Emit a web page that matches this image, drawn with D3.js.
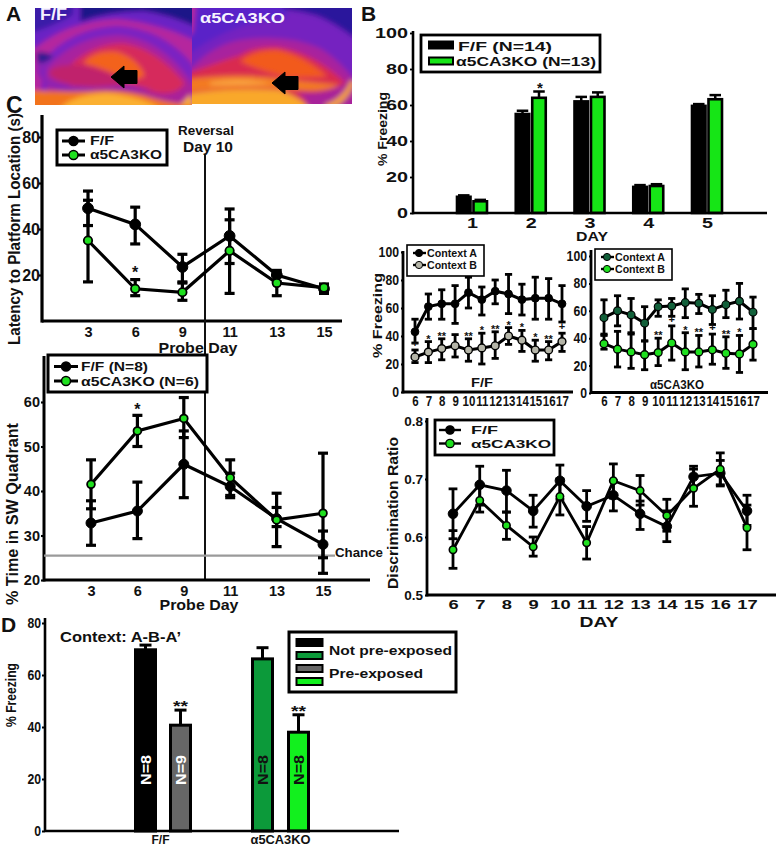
<!DOCTYPE html>
<html><head><meta charset="utf-8">
<script src="https://cdn.jsdelivr.net/npm/d3@7"></script>
<style>
html,body{margin:0;padding:0;background:#fff}
svg{display:block}
text{font-family:"Liberation Sans",Arial,sans-serif;font-weight:700;fill:#111}
</style></head><body><svg id="c" width="776" height="853"></svg>
<script>
// ---------- DATA ----------
const probeDays = ["3","6","9","11","13","15"];
const latencyFF = [49,42,23.5,37,20,14];
const latencyFFLo = [41.5,33.5,17,25,17,12];
const latencyFFHi = [56.5,49.5,29,48.7,22,16];
const latencyKO = [35,14,12.5,30.5,16.5,14.5];
const latencyKOLo = [17,11,9,12,11,13];
const latencyKOHi = [52.5,18,16.5,44,20,16];

const quadFF = [32.8,35.5,46,41,33.8,28];
const quadFFLo = [27.8,29.3,38.5,38.5,32,25];
const quadFFHi = [37.8,42,53.5,44,36.3,31];
const quadKO = [41.5,53.5,56.3,43,33.5,35];
const quadKOLo = [36,50,52,39,27.5,21.5];
const quadKOHi = [47,57,61,47,39.5,48.5];
const chanceLevel = 25.5;

const trainDays = ["1","2","3","4","5"];
const trainFF = [9,55,62,14.5,59.5];
const trainFFHi = [9.8,56.8,64.5,15.5,60.5];
const trainKO = [6.5,64,64.5,15,63.2];
const trainKOHi = [7.3,67.5,67,16,65.5];

const ctxDays = ["6","7","8","9","10","11","12","13","14","15","16","17"];
const ffA = [43,61,63,63,71,66,72,70,66,67,67,63];
const ffALo = [35,52,52,49,60,55,63,56,55,52,52,50];
const ffAHi = [52,70,73,76,82,75,80,84,77,82,81,76];
const ffB = [25,28.5,31,33,30,31.5,33,40,37,30,30,36];
const ffBLo = [21,21,23,25,22,20,24,34,29,22,23,29];
const ffBHi = [30,36,38,41,38,42,43,46,44,37,36,42];
const ffStars = ["+","*","**","","**","*","**","*","*","*","**","+"];

const koA = [55,60,57,51,63,63.5,66,65.5,61,64.5,67,59];
const koALo = [42,49,44,38,56,56,55,58,50,55,54,47];
const koAHi = [68,71,69,63,68,69,76,72,71,75,80,70];
const koB = [36,32,30,28,29.5,36.5,30,30,31.5,29,28.5,35.5];
const koBLo = [32,19,18,17,20,24,17,19,21,18,15,24];
const koBHi = [43,45,43,38,40,49,44,42,43,41,42,47];
const koStars = ["","","","","**","+","*","**","+","**","*",""];

const discFF = [.64,.69,.68,.645,.697,.653,.672,.64,.618,.704,.71,.645];
const discFFLo = [.597,.655,.643,.617,.665,.627,.645,.613,.592,.685,.688,.62];
const discFFHi = [.683,.722,.715,.672,.724,.68,.697,.662,.645,.722,.732,.672];
const discKO = [.578,.663,.62,.583,.67,.59,.697,.68,.637,.684,.717,.616];
const discKOLo = [.546,.643,.596,.567,.638,.562,.667,.655,.61,.653,.69,.578];
const discKOHi = [.611,.69,.643,.6,.7,.618,.726,.706,.665,.717,.745,.655];

const preGroups = ["F/F","α5CA3KO"];
const preValues = [69.7,40.7,66.2,38];
const preHi = [71.5,46.5,70.5,44.7];
const preN = ["N=8","N=9","N=8","N=8"];
const preStars = ["","**","","**"];
const preColors = ["#000000","#666666","#0c9a3a","#12f01e"];

const BLACK="#000", GREEN="#1fe01f", GREY="#b5b5a8", DKGREEN="#12603a";

// ---------- HELPERS ----------
const svg = d3.select("#c");
const defs = svg.append("defs");
defs.append("filter").attr("id","bl").attr("x","-20%").attr("y","-20%").attr("width","140%").attr("height","140%")
  .append("feGaussianBlur").attr("stdDeviation",2.8);
defs.append("clipPath").attr("id","cl").append("rect").attr("x",35).attr("y",8).attr("width",157).attr("height",97);
defs.append("clipPath").attr("id","cr").append("rect").attr("x",192).attr("y",8).attr("width",160).attr("height",96);

function txt(g,s,x,y,size,o={}){
  const t=g.append("text").attr("x",x).attr("y",y).attr("font-size",size).text(s);
  if(o.anchor)t.attr("text-anchor",o.anchor);
  if(o.w)t.attr("textLength",o.w).attr("lengthAdjust","spacingAndGlyphs");
  if(o.fill)t.style("fill",o.fill);
  if(o.rot)t.attr("transform",`rotate(-90 ${x} ${y})`);
  return t;
}
function axes(g,x,y,o){
  const ay=g.append("g").attr("transform",`translate(${o.x0},0)`)
    .call(d3.axisLeft(y).tickValues(o.yTicks).tickFormat(o.yFmt||d3.format("d")).tickSize(o.tick||5).tickPadding(o.yPad||2));
  const ax=g.append("g").attr("transform",`translate(0,${o.y0})`)
    .call(d3.axisBottom(x).tickSize(0).tickPadding(o.xPad));
  [ay,ax].forEach(a=>{a.select(".domain").remove();a.selectAll("line").attr("stroke","#000").attr("stroke-width",o.lw*.7);});
  ay.selectAll("text").attr("font-size",o.yFs).style("font-family",'"Liberation Sans",Arial').style("font-weight",700).style("fill","#111");
  ax.selectAll("text").attr("font-size",o.xFs).style("font-family",'"Liberation Sans",Arial').style("font-weight",700).style("fill","#111");
  if(o.tickW)ax.selectAll("text").each(function(){const s=this.textContent;
    d3.select(this).attr("textLength",s.length*o.tickW).attr("lengthAdjust","spacingAndGlyphs");});
  if(o.xScale)ax.selectAll("text").attr("transform",`scale(${o.xScale},1)`);
  if(o.yTickW)ay.selectAll("text").each(function(){const s=this.textContent;
    d3.select(this).attr("textLength",s.length*o.yTickW).attr("lengthAdjust","spacingAndGlyphs");});
  g.append("line").attr("x1",o.x0).attr("x2",o.x0).attr("y1",o.yTop).attr("y2",o.y0+o.lw/2).attr("stroke","#000").attr("stroke-width",o.lw);
  g.append("line").attr("x1",o.x0).attr("x2",o.x1).attr("y1",o.y0).attr("y2",o.y0).attr("stroke","#000").attr("stroke-width",o.lw);
}
function series(g,cats,x,y,v,lo,hi,o){
  const gg=g.append("g");
  const eb=gg.append("g").selectAll("g").data(cats).join("g");
  eb.append("line").attr("x1",d=>x(d)).attr("x2",d=>x(d)).attr("y1",(d,i)=>y(lo[i])).attr("y2",(d,i)=>y(hi[i]))
    .attr("stroke","#000").attr("stroke-width",o.ew);
  [lo,hi].forEach(a=>eb.append("line").attr("x1",d=>x(d)-o.cap).attr("x2",d=>x(d)+o.cap)
    .attr("y1",(d,i)=>y(a[i])).attr("y2",(d,i)=>y(a[i])).attr("stroke","#000").attr("stroke-width",o.ew));
  gg.append("path").attr("fill","none").attr("stroke","#000").attr("stroke-width",o.lw)
    .attr("d",d3.line().x((d,i)=>x(cats[i])).y(d=>y(d))(v));
  gg.append("g").selectAll("circle").data(v).join("circle").attr("cx",(d,i)=>x(cats[i])).attr("cy",d=>y(d))
    .attr("r",o.r).attr("fill",o.fill).attr("stroke","#000").attr("stroke-width",o.sw);
}
function lineLegend(g,box,items,o){
  g.append("rect").attr("x",box[0]).attr("y",box[1]).attr("width",box[2]).attr("height",box[3])
    .attr("fill","#fff").attr("stroke","#000").attr("stroke-width",o.bw);
  items.forEach(it=>{
    g.append("line").attr("x1",o.lx).attr("x2",o.lx+o.ll).attr("y1",it.y).attr("y2",it.y).attr("stroke","#000").attr("stroke-width",o.lw);
    g.append("circle").attr("cx",o.lx+o.ll/2).attr("cy",it.y).attr("r",o.r).attr("fill",it.fill).attr("stroke","#000").attr("stroke-width",o.sw);
    txt(g,it.t,o.tx,it.y+o.fs*.36,o.fs,{w:it.w});
  });
}
const pt=(cats,a,b)=>d3.scalePoint().domain(cats).range([a,b]);

// ---------- PANEL A (hippocampus image, painted as blurred shapes) ----------
const A=svg.append("g");
function slice(clip,ox,oy,shapes){
  const g=A.append("g").attr("clip-path",`url(#${clip})`);
  const inner=g.append("g").attr("filter","url(#bl)").append("g").attr("transform",`translate(${ox},${oy}) scale(${1/3})`);
  shapes.forEach(s=>inner.append("path").attr("d",s[0]).attr("fill",s[1]));
}
slice("cl",30,5,[
 ["M-20-20H520V340H-20Z","#b5269e"],
 ["M-20-20H520V120Q400 55 260 42Q110 50 15 130L-20 120Z","#6a24c4"],
 ["M-20-20H130V30Q60 70 -20 90Z","#3a1ca8"],
 ["M150-20H520V75Q420 28 340 18Q240 18 150 50Z","#1e1488"],
 ["M35 170Q120 70 260 62Q400 70 490 180V320H35Z","#7a22c2"],
 ["M50 190Q130 95 265 90Q390 100 480 225V320H50Z","#a8229f"],
 ["M120 180Q190 115 280 115Q380 130 465 235V280H120Z","#d62c5c"],
 ["M160 175Q190 135 260 140Q325 160 345 212L300 232Q230 190 160 175Z","#f3621f"],
 ["M20 160Q45 135 75 158Q45 175 38 205Q60 245 180 245L300 240L370 255L180 262Q40 265 20 200Z","#8a22b4"],
 ["M55 205Q70 175 150 180Q230 195 300 238L220 240Q90 250 55 205Z","#c0246c"],
 ["M18 145Q40 135 70 155Q45 175 25 175Z","#2a1c90"],
 ["M190 250Q320 250 390 265Q450 270 470 225L490 240V320H380Q300 258 190 258Z","#a8209a"],
 ["M-20 255Q100 262 200 258Q300 252 370 280Q430 298 520 305V340H-20Z","#f2731f"],
 ["M90 310Q130 268 230 264Q330 272 390 310V340H90Z","#fbb030"],
 ["M450 300L482 268L490 300Z","#f9b030"]
]);
slice("cr",190,5,[
 ["M-20-20H520V340H-20Z","#7420c0"],
 ["M-20-20H290V40Q130 45 -20 160Z","#5a22c8"],
 ["M-20-20H20L10 80L-20 110Z","#b8269c"],
 ["M280-20H520V120Q440 55 380 32Q330 18 280 12Z","#2a189c"],
 ["M-20 215Q60 120 150 105Q290 85 390 130Q450 165 500 235V320H-20Z","#a8209e"],
 ["M-20 210Q80 172 150 150Q180 125 260 125Q370 140 465 232L475 295L-20 295Z","#d92c50"],
 ["M150 168Q190 135 260 135Q340 150 412 215L300 218Q200 195 150 168Z","#f25a1f"],
 ["M-20 225Q150 200 300 225L450 240Q400 262 330 256Q200 240 -20 262Z","#f37a20"],
 ["M60 232Q150 215 250 236Q150 242 60 240Z","#f9a542"],
 ["M-20 320V268Q130 245 270 256Q340 280 365 320Z","#f9a82c"],
 ["M320 262Q400 272 460 236L500 225V320H372Q350 285 320 262Z","#a8209a"],
 ["M400 300Q460 282 482 225L494 230Q474 292 420 312Z","#f6a42e"]
]);
const arrow=(tip,cy)=>`M${tip} ${cy}L${tip+13} ${cy-11}V${cy-6.5}H${tip+26}V${cy+6.5}H${tip+13}V${cy+11}Z`;
A.append("path").attr("d",arrow(111,77)).attr("fill","#000").attr("stroke","#000").attr("stroke-linejoin","round");
A.append("path").attr("d",arrow(272,83)).attr("fill","#000").attr("stroke","#000").attr("stroke-linejoin","round");
txt(A,"F/F",40,20,16,{fill:"#f6f2ff",w:27});
txt(A,"α5CA3KO",200,23,15,{fill:"#f6f2ff",w:85});
txt(svg,"A",6,21,21);
txt(svg,"B",361,21,21);
txt(svg,"C",6,113,23);
txt(svg,"D",1,632,21);

// ---------- PANEL C top ----------
{
 const g=svg.append("g");
 const x=pt(probeDays,88,324), y=d3.scaleLinear().domain([0,80]).range([321,137]);
 axes(g,x,y,{x0:42,x1:342,y0:321,yTop:115,yTicks:[20,40,60,80],yFs:16,xFs:14.5,xPad:6,lw:3.2,tick:3,yPad:-1});
 g.append("line").attr("x1",205).attr("x2",205).attr("y1",155).attr("y2",580).attr("stroke","#111").attr("stroke-width",2);
 const so={ew:3.2,cap:5,lw:3.2,r:5.4,sw:1,fill:BLACK};
 series(g,probeDays,x,y,latencyFF,latencyFFLo,latencyFFHi,so);
 series(g,probeDays,x,y,latencyKO,latencyKOLo,latencyKOHi,{...so,fill:GREEN,r:4.2,sw:1.8});
 txt(g,"*",x("6"),278,16,{anchor:"middle"});
 txt(g,"Reversal",206,135,12.5,{anchor:"middle",w:56});
 txt(g,"Day 10",208,152,14.5,{anchor:"middle",w:50});
 txt(g,"Latency to Platform Location (s)",20,345,16.5,{rot:1,w:232});
 txt(g,"Probe Day",198,353,14,{anchor:"middle",w:79});
 lineLegend(g,[57,130,110,35],[{t:"F/F",y:141,fill:BLACK,w:24},{t:"α5CA3KO",y:155,fill:GREEN,w:72}],
   {lx:62,ll:23,tx:90,fs:12,lw:3,r:4.5,sw:1.5,bw:3});
}

// ---------- PANEL C bottom ----------
{
 const g=svg.append("g");
 const x=pt(probeDays,91,323), y=d3.scaleLinear().domain([20,60]).range([580,402]);
 axes(g,x,y,{x0:44,x1:370,y0:580,yTop:356,yTicks:[20,30,40,50,60],yFs:14.5,xFs:14.5,xPad:6,lw:3,tick:3,yPad:1});
 g.append("line").attr("x1",44).attr("x2",335).attr("y1",y(chanceLevel)).attr("y2",y(chanceLevel)).attr("stroke","#9a9a9a").attr("stroke-width",2.2);
 txt(g,"Chance",335,557,12,{w:48});
 const so={ew:3.2,cap:5,lw:3.2,r:5,sw:1,fill:BLACK};
 series(g,probeDays,x,y,quadFF,quadFFLo,quadFFHi,so);
 series(g,probeDays,x,y,quadKO,quadKOLo,quadKOHi,{...so,fill:GREEN,r:3.9,sw:1.8});
 txt(g,"*",x("6"),415,16,{anchor:"middle"});
 txt(g,"% Time in SW Quadrant",18,605,16,{rot:1,w:182});
 txt(g,"Probe Day",199,610,14,{anchor:"middle",w:79});
 lineLegend(g,[48,355,159,37],[{t:"F/F (N=8)",y:366.5,fill:BLACK,w:67},{t:"α5CA3KO (N=6)",y:381,fill:GREEN,w:118}],
   {lx:54,ll:24,tx:81,fs:12.5,lw:3,r:4.5,sw:1.5,bw:3});
}

// ---------- PANEL B bars ----------
{
 const g=svg.append("g");
 const x=pt(trainDays,472,707), y=d3.scaleLinear().domain([0,100]).range([213,33]);
 const x2=d3.scaleBand().domain(["FF","KO"]).range([-15,16]).paddingInner(.12);
 const ws=x2.bandwidth()-1;
 const draw=(key,v,hi,fill)=>{
   const b=g.append("g").selectAll("g").data(trainDays).join("g");
   b.append("line").attr("x1",d=>x(d)+x2(key)+ws/2).attr("x2",d=>x(d)+x2(key)+ws/2)
     .attr("y1",(d,i)=>y(v[i])).attr("y2",(d,i)=>y(hi[i])).attr("stroke","#000").attr("stroke-width",2.5);
   b.append("line").attr("x1",d=>x(d)+x2(key)+1).attr("x2",d=>x(d)+x2(key)+ws-1)
     .attr("y1",(d,i)=>y(hi[i])).attr("y2",(d,i)=>y(hi[i])).attr("stroke","#000").attr("stroke-width",2.5);
   b.append("rect").attr("x",d=>x(d)+x2(key)).attr("width",ws).attr("y",(d,i)=>y(v[i]))
     .attr("height",(d,i)=>y(0)-y(v[i])).attr("fill",fill).attr("stroke","#000").attr("stroke-width",2.6);
 };
 draw("FF",trainFF,trainFFHi,"#000");
 draw("KO",trainKO,trainKOHi,"#16e516");
 axes(g,x,y,{x0:413,x1:767,y0:213,yTop:31,yTicks:[0,20,40,60,80,100],yFs:14.5,xFs:14,xPad:5,lw:2.6,tick:3,yPad:0,tickW:11,yTickW:11});
 txt(g,"*",540,93,15,{anchor:"middle"});
 txt(g,"% Freezing",387,166,13,{rot:1,w:74});
 txt(g,"DAY",592,241,13.5,{anchor:"middle",w:32});
 g.append("rect").attr("x",421).attr("y",35).attr("width",179).attr("height",37).attr("fill","#fff").attr("stroke","#000").attr("stroke-width",2.8);
 [["F/F (N=14)",40,"#000",51,94,458],["α5CA3KO (N=13)",56,"#16e516",66,140,456]].forEach(r=>{
   g.append("rect").attr("x",429).attr("y",r[1]+1.5).attr("width",24).attr("height",7).attr("fill",r[2]).attr("stroke","#000").attr("stroke-width",2);
   txt(g,r[0],r[5],r[3],13,{w:r[4]});
 });
}

// ---------- Context panels ----------
function ctxPanel(o){
 const g=svg.append("g");
 const x=pt(ctxDays,o.first,o.last), y=d3.scaleLinear().domain([0,100]).range([o.y0v,o.y100]);
 axes(g,x,y,{x0:o.x0,x1:o.x1,y0:o.y0,yTop:o.yTop,yTicks:[0,20,40,60,80,100],yFs:14,xFs:14,xPad:4,lw:2.8,tick:2,yPad:0,xScale:.82,yTickW:6.8});
 const so={ew:2.8,cap:3.6,lw:3,r:3.9,sw:1,fill:o.fA};
 series(g,ctxDays,x,y,o.a,o.aLo,o.aHi,{...so,sw:o.swA});
 series(g,ctxDays,x,y,o.b,o.bLo,o.bHi,{...so,fill:o.fB,sw:1.4});
 g.append("g").selectAll("text").data(o.stars).join("text").attr("x",(d,i)=>x(ctxDays[i])).attr("y",(d,i)=>y(o.bHi[i])+(d==="+"?-3:1))
   .attr("text-anchor","middle").attr("font-size",11).text(d=>d);
 txt(g,o.name,o.nameX,o.nameY,o.nameFs,{anchor:"middle",w:o.nameW});
 g.append("rect").attr("x",o.lx).attr("y",o.ly).attr("width",o.lw).attr("height",o.lh).attr("fill","#fff").attr("stroke","#000").attr("stroke-width",1.6);
 [[o.ly+8,o.fA,"Context A"],[o.ly+20,o.fB,"Context B"]].forEach(r=>{
   g.append("line").attr("x1",o.lx+6).attr("x2",o.lx+19).attr("y1",r[0]).attr("y2",r[0]).attr("stroke","#000").attr("stroke-width",2.4);
   g.append("circle").attr("cx",o.lx+12).attr("cy",r[0]).attr("r",3.6).attr("fill",r[1]).attr("stroke","#000").attr("stroke-width",1);
   txt(g,r[2],o.lx+20,r[0]+4,o.lfs,{w:50});
 });
 return g;
}
const ff=ctxPanel({first:415,last:562,x0:403,x1:573,y0:392,yTop:251,y0v:392,y100:252,fA:"#000",fB:GREY,swA:1,
 a:ffA,aLo:ffALo,aHi:ffAHi,b:ffB,bLo:ffBLo,bHi:ffBHi,stars:ffStars,name:"F/F",nameX:482,nameY:387,nameFs:13,nameW:22,
 lx:407,ly:245,lw:77,lh:31,lfs:10.8});
txt(ff,"% Freezing",382,358,13.5,{rot:1,w:85});
ctxPanel({first:604,last:753,x0:591,x1:768,y0:392.5,yTop:250,y0v:393,y100:256,fA:DKGREEN,fB:GREEN,swA:1.2,
 a:koA,aLo:koALo,aHi:koAHi,b:koB,bLo:koBLo,bHi:koBHi,stars:koStars,name:"α5CA3KO",nameX:677,nameY:389,nameFs:12.5,nameW:54,
 lx:595,ly:249,lw:77,lh:31,lfs:10.8});

// ---------- Discrimination ----------
{
 const g=svg.append("g");
 const x=pt(ctxDays,453,747), y=d3.scaleLinear().domain([.5,.8]).range([595,421]);
 axes(g,x,y,{x0:427,x1:776,y0:595,yTop:418,yTicks:[.5,.6,.7,.8],yFmt:d3.format(".1f"),yFs:13.5,xFs:13.5,xPad:4,lw:2.8,tick:2,yPad:0,tickW:10.2});
 const so={ew:2.8,cap:4.4,lw:2.8,r:4.8,sw:1,fill:BLACK};
 series(g,ctxDays,x,y,discFF,discFFLo,discFFHi,so);
 series(g,ctxDays,x,y,discKO,discKOLo,discKOHi,{...so,fill:GREEN,r:3.7,sw:1.6});
 txt(g,"Discrimination Ratio",398,589,15,{rot:1,w:152});
 txt(g,"DAY",599,627,14,{anchor:"middle",w:39});
 lineLegend(g,[435,420,119,35],[{t:"F/F",y:430,fill:BLACK,w:27},{t:"α5CA3KO",y:443.5,fill:GREEN,w:80}],
   {lx:439,ll:22,tx:471,fs:11.5,lw:2.4,r:4.2,sw:1.3,bw:2.8});
}

// ---------- PANEL D ----------
{
 const g=svg.append("g");
 const positions=d3.scaleOrdinal().domain([0,1,2,3]).range([134,169,251,287]);
 const y=d3.scaleLinear().domain([0,80]).range([831,623]);
 const centers=d3.scalePoint().domain(preGroups).range([160,280]);
 preValues.forEach((v,i)=>{
   const px=positions(i), c=px+11.5;
   g.append("line").attr("x1",c).attr("x2",c).attr("y1",y(v)).attr("y2",y(preHi[i])).attr("stroke","#000").attr("stroke-width",3);
   g.append("line").attr("x1",c-6).attr("x2",c+6).attr("y1",y(preHi[i])).attr("y2",y(preHi[i])).attr("stroke","#000").attr("stroke-width",3);
   g.append("rect").attr("x",px+1.5).attr("y",y(v)).attr("width",20).attr("height",y(0)-y(v))
     .attr("fill",preColors[i]).attr("stroke","#000").attr("stroke-width",3);
   txt(g,preN[i],c+5.5,785,15.5,{rot:1,w:30,fill:i>=2?"#111":"#fff"});
   if(preStars[i])txt(g,preStars[i],c,y(preHi[i])+1,15,{anchor:"middle",w:15});
 });
 const ax=g.append("g").attr("transform","translate(0,831)").call(d3.axisBottom(centers).tickSize(0).tickPadding(4));
 ax.select(".domain").remove();
 ax.selectAll("text").attr("font-size",13).style("font-family",'"Liberation Sans",Arial').style("font-weight",700).style("fill","#111")
   .attr("textLength",function(){return this.textContent==="F/F"?18:60;}).attr("lengthAdjust","spacingAndGlyphs");
 const ay=g.append("g").attr("transform","translate(45,0)").call(d3.axisLeft(y).tickValues([0,20,40,60,80]).tickSize(3).tickPadding(1));
 ay.select(".domain").remove();
 ay.selectAll("line").attr("stroke","#000").attr("stroke-width",2);
 ay.selectAll("text").attr("font-size",14).attr("textLength",function(){return this.textContent.length*6.8;}).attr("lengthAdjust","spacingAndGlyphs").style("font-family",'"Liberation Sans",Arial').style("font-weight",700).style("fill","#111");
 g.append("line").attr("x1",45).attr("x2",45).attr("y1",618).attr("y2",832).attr("stroke","#000").attr("stroke-width",2.6);
 g.append("line").attr("x1",45).attr("x2",399).attr("y1",831).attr("y2",831).attr("stroke","#000").attr("stroke-width",2.6);
 txt(g,"% Freezing",16,727,15,{rot:1,w:64});
 txt(g,"Context: A-B-A’",60,642,15,{w:121});
 g.append("rect").attr("x",289).attr("y",632).attr("width",167).attr("height",60).attr("fill","#fff").attr("stroke","#000").attr("stroke-width",3);
 [[639,preColors[0]],[652,preColors[2]],[665,preColors[1]],[678,preColors[3]]].forEach(r=>{
   g.append("rect").attr("x",296.5).attr("y",r[0]).attr("width",26).attr("height",7).attr("fill",r[1]).attr("stroke","#000").attr("stroke-width",2);
 });
 txt(g,"Not pre-exposed",329,655,13.5,{w:123});
 txt(g,"Pre-exposed",329,678,13.5,{w:94});
}
</script></body></html>
